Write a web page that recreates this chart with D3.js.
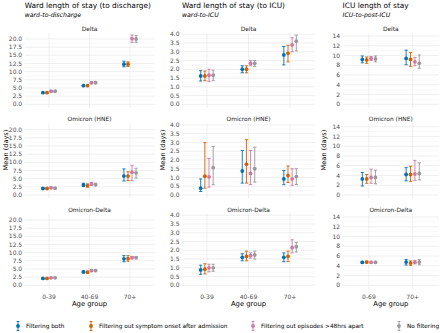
<!DOCTYPE html>
<html>
<head>
<meta charset="utf-8">
<script src="https://cdn.jsdelivr.net/npm/d3@7"></script>
<style>
  body { margin: 0; background: #fff; }
  svg { font-family: "DejaVu Sans", sans-serif; display: block; }
</style>
</head>
<body>
<div id="chart"></div>
<script>
// Data
const variants = ["Delta", "Omicron (HNE)", "Omicron-Delta"];
const filters = [
  "Filtering both",
  "Filtering out symptom onset after admission",
  "Filtering out episodes >48hrs apart",
  "No filtering"
];
const filterColors = ["#0072B2", "#D55E00", "#CC79A7", "#999999"];

const agesWard = ["0-39", "40-69", "70+"];
const agesICU = ["0-69", "70+"];

// each row: [variant, age, means per filter, lower per filter, upper per filter]
const dischargeRows = [
  ["Delta", "0-39",  [3.55, 3.55, 4.0, 4.0],  [3.4, 3.4, 3.8, 3.8],   [3.7, 3.7, 4.2, 4.2]],
  ["Delta", "40-69", [5.7, 5.7, 6.6, 6.6],    [5.5, 5.5, 6.3, 6.4],   [5.9, 5.9, 6.9, 6.8]],
  ["Delta", "70+",   [12.3, 12.3, 20.1, 20.0], [11.5, 11.6, 19.0, 19.0], [13.2, 13.0, 21.2, 21.0]],
  ["Omicron (HNE)", "0-39",  [2.0, 2.0, 2.2, 2.1], [1.8, 1.8, 1.9, 1.9], [2.2, 2.2, 2.5, 2.3]],
  ["Omicron (HNE)", "40-69", [3.1, 2.9, 3.4, 3.2], [2.6, 2.4, 2.9, 2.8], [3.6, 3.4, 3.9, 3.6]],
  ["Omicron (HNE)", "70+",   [5.8, 5.8, 7.0, 6.8], [4.3, 4.4, 4.4, 5.2], [8.0, 7.1, 9.1, 8.2]],
  ["Omicron-Delta", "0-39",  [2.1, 2.1, 2.3, 2.3], [1.9, 1.9, 2.1, 2.1], [2.3, 2.3, 2.5, 2.5]],
  ["Omicron-Delta", "40-69", [4.1, 4.0, 4.5, 4.5], [3.8, 3.7, 4.2, 4.3], [4.4, 4.3, 4.8, 4.7]],
  ["Omicron-Delta", "70+",   [8.1, 8.2, 8.45, 8.45], [7.2, 7.4, 8.1, 8.1], [9.1, 9.1, 8.8, 8.8]]
];

const toICURows = [
  ["Delta", "0-39",  [1.62, 1.62, 1.66, 1.66], [1.33, 1.35, 1.3, 1.35], [1.92, 1.9, 2.0, 1.95]],
  ["Delta", "40-69", [2.0, 2.0, 2.34, 2.34],   [1.8, 1.8, 2.2, 2.15],   [2.2, 2.2, 2.5, 2.5]],
  ["Delta", "70+",   [2.82, 2.91, 3.39, 3.6],  [2.25, 2.42, 3.0, 3.05], [3.3, 3.37, 3.8, 3.95]],
  ["Omicron (HNE)", "0-39",  [0.39, 1.07, 1.03, 1.56], [0.2, 0.39, 0.45, 0.59], [0.92, 2.99, 2.09, 2.77]],
  ["Omicron (HNE)", "40-69", [1.37, 1.76, 1.23, 1.5],  [0.68, 0.68, 0.59, 0.74], [2.54, 3.16, 2.54, 2.73]],
  ["Omicron (HNE)", "70+",   [0.92, 1.11, 0.92, 1.05], [0.59, 0.72, 0.55, 0.6],  [1.4, 1.66, 1.5, 1.5]],
  ["Omicron-Delta", "0-39",  [0.88, 0.92, 1.0, 1.0],   [0.63, 0.65, 0.77, 0.8],  [1.15, 1.23, 1.2, 1.2]],
  ["Omicron-Delta", "40-69", [1.6, 1.65, 1.7, 1.73],   [1.4, 1.4, 1.55, 1.5],    [1.8, 1.95, 1.85, 1.95]],
  ["Omicron-Delta", "70+",   [1.6, 1.65, 2.15, 2.2],   [1.35, 1.35, 1.85, 1.9],  [1.85, 1.95, 2.6, 2.45]]
];

const icuRows = [
  ["Delta", "0-69", [9.2, 9.1, 9.4, 9.3], [8.5, 8.4, 9.0, 8.7], [9.9, 9.7, 9.8, 9.9]],
  ["Delta", "70+",  [9.4, 9.2, 8.7, 8.4], [8.1, 7.8, 7.9, 7.4], [11.1, 10.6, 9.6, 10.1]],
  ["Omicron (HNE)", "0-69", [3.3, 3.3, 3.6, 3.6], [1.85, 2.4, 2.4, 2.3], [4.6, 4.2, 5.3, 5.1]],
  ["Omicron (HNE)", "70+",  [4.2, 4.2, 4.3, 4.4], [2.9, 2.8, 3.0, 3.1], [5.6, 5.9, 7.1, 6.6]],
  ["Omicron-Delta", "0-69", [4.7, 4.75, 4.7, 4.7], [4.5, 4.55, 4.5, 4.5], [4.9, 4.95, 4.9, 4.9]],
  ["Omicron-Delta", "70+",  [4.75, 4.55, 4.7, 4.75], [4.15, 4.1, 4.4, 4.2], [5.3, 5.0, 5.1, 5.3]]
];

const columns = [
  { title: "Ward length of stay (to discharge)", subtitle: "ward-to-discharge",
    ages: agesWard, rows: dischargeRows, x0: 24.7, x1: 154.3,
    domain: [-1.13, 21.84], ticks: d3.range(0, 20.01, 2.5), fmt: d3.format(".1f") },
  { title: "Ward length of stay (to ICU)", subtitle: "ward-to-ICU",
    ages: agesWard, rows: toICURows, x0: 182, x1: 315,
    domain: [-0.21, 4.07], ticks: d3.range(0, 4.01, 0.5), fmt: d3.format(".1f") },
  { title: "ICU length of stay", subtitle: "ICU-to-post-ICU",
    ages: agesICU, rows: icuRows, x0: 342.6, x1: 439,
    domain: [-0.76, 14.61], ticks: d3.range(0, 14.01, 2), fmt: d3.format("d") }
];

const width = 440, height = 333;
const panelTops = [33, 123.7, 214];
const panelH = 75;

const svg = d3.select("#chart").append("svg")
  .attr("width", width)
  .attr("height", height);

columns.forEach((col, ci) => {
  const x = d3.scalePoint().domain(col.ages).range([col.x0, col.x1]).padding(0.6);
  const step = x.step();

  // column title + subtitle
  svg.append("text").attr("x", col.x0).attr("y", 7.5)
    .attr("font-size", 7.4).attr("fill", "#000").text(col.title);
  svg.append("text").attr("x", col.x0).attr("y", 17)
    .attr("font-size", 6.2).attr("font-style", "italic").attr("fill", "#000").text(col.subtitle);

  variants.forEach((variant, ri) => {
    const top = panelTops[ri];
    const y = d3.scaleLinear().domain(col.domain).range([top + panelH, top]);
    const g = svg.append("g");

    // minor grid
    const minor = col.ticks.slice(0, -1).map((t, i) => (t + col.ticks[i + 1]) / 2);
    g.selectAll(".minor").data(minor).join("line")
      .attr("x1", col.x0).attr("x2", col.x1)
      .attr("y1", d => y(d)).attr("y2", d => y(d))
      .attr("stroke", "#f2f2f2").attr("stroke-width", 0.5);
    // major grid
    g.selectAll(".major").data(col.ticks).join("line")
      .attr("x1", col.x0).attr("x2", col.x1)
      .attr("y1", d => y(d)).attr("y2", d => y(d))
      .attr("stroke", "#e4e4e4").attr("stroke-width", 0.6);
    g.selectAll(".vgrid").data(col.ages).join("line")
      .attr("x1", d => x(d)).attr("x2", d => x(d))
      .attr("y1", top).attr("y2", top + panelH)
      .attr("stroke", "#e4e4e4").attr("stroke-width", 0.6);

    // y tick labels
    g.selectAll(".ytick").data(col.ticks).join("text")
      .attr("x", col.x0 - 2.5).attr("y", d => y(d))
      .attr("dy", "0.35em").attr("text-anchor", "end")
      .attr("font-size", 6).attr("fill", "#4d4d4d")
      .text(col.fmt);

    // strip label
    g.append("text").attr("x", (col.x0 + col.x1) / 2).attr("y", top - 2.5)
      .attr("text-anchor", "middle").attr("font-size", 5.9).attr("fill", "#1a1a1a")
      .text(variant);

    // marks
    const pts = [];
    col.rows.filter(r => r[0] === variant).forEach(r => {
      filters.forEach((f, fi) => {
        pts.push({ age: r[1], fi, mean: r[2][fi], lo: r[3][fi], hi: r[4][fi] });
      });
    });
    const px = d => x(d.age) + (d.fi - 1.5) * 0.1 * step;

    const mk = g.selectAll(".pt").data(pts).join("g");
    mk.append("line")
      .attr("x1", px).attr("x2", px)
      .attr("y1", d => y(d.lo)).attr("y2", d => y(d.hi))
      .attr("stroke", d => filterColors[d.fi]).attr("stroke-width", 0.9);
    mk.append("line")
      .attr("x1", d => px(d) - 1.6).attr("x2", d => px(d) + 1.6)
      .attr("y1", d => y(d.lo)).attr("y2", d => y(d.lo))
      .attr("stroke", d => filterColors[d.fi]).attr("stroke-width", 0.9);
    mk.append("line")
      .attr("x1", d => px(d) - 1.6).attr("x2", d => px(d) + 1.6)
      .attr("y1", d => y(d.hi)).attr("y2", d => y(d.hi))
      .attr("stroke", d => filterColors[d.fi]).attr("stroke-width", 0.9);
    mk.append("circle")
      .attr("cx", px).attr("cy", d => y(d.mean)).attr("r", 1.9)
      .attr("fill", d => filterColors[d.fi]);

    // y axis title on middle row
    if (ri === 1) {
      svg.append("text")
        .attr("transform", `translate(${col.x0 - 17},150) rotate(-90)`)
        .attr("text-anchor", "middle").attr("font-size", 6.6).attr("fill", "#000")
        .text("Mean (days)");
    }

    // x axis on bottom row
    if (ri === 2) {
      g.selectAll(".xtick").data(col.ages).join("text")
        .attr("x", d => x(d)).attr("y", top + panelH + 10)
        .attr("text-anchor", "middle").attr("font-size", 6).attr("fill", "#4d4d4d")
        .text(d => d);
      svg.append("text")
        .attr("x", (col.x0 + col.x1) / 2).attr("y", 306)
        .attr("text-anchor", "middle").attr("font-size", 6.8).attr("fill", "#000")
        .text("Age group");
    }
  });
});

// legend
const legendX = [18, 91, 253, 399];
const legend = svg.append("g").selectAll("g").data(filters).join("g")
  .attr("transform", (d, i) => `translate(${legendX[i]},326)`);
legend.append("line").attr("y1", -4.5).attr("y2", 4.5)
  .attr("stroke", (d, i) => filterColors[i]).attr("stroke-width", 0.9);
legend.append("line").attr("x1", -1.4).attr("x2", 1.4).attr("y1", -4.5).attr("y2", -4.5)
  .attr("stroke", (d, i) => filterColors[i]).attr("stroke-width", 0.9);
legend.append("line").attr("x1", -1.4).attr("x2", 1.4).attr("y1", 4.5).attr("y2", 4.5)
  .attr("stroke", (d, i) => filterColors[i]).attr("stroke-width", 0.9);
legend.append("circle").attr("r", 1.9).attr("fill", (d, i) => filterColors[i]);
legend.append("text").attr("x", 8).attr("dy", "0.35em")
  .attr("font-size", 5.8).attr("fill", "#000").text(d => d);
</script>
</body>
</html>
